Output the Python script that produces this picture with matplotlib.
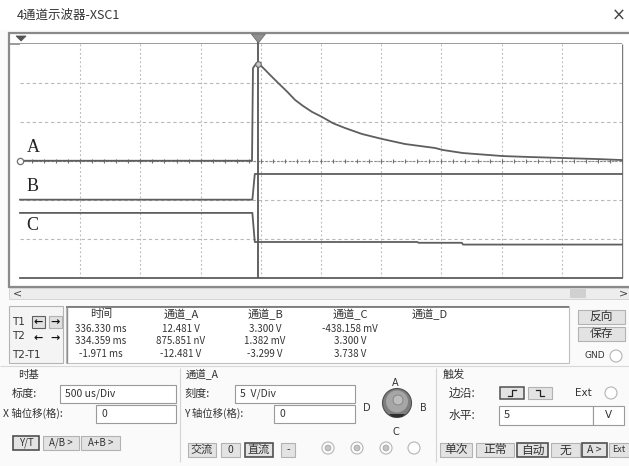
import matplotlib.pyplot as plt
import numpy as np
from matplotlib.patches import Circle, Polygon, Rectangle

plt.rcParams['font.family'] = ['Noto Sans CJK SC', 'DejaVu Sans']

W, H = 629, 466

# scope settings
t_start = 334.35          # ms at the left edge of the screen
ms_per_div = 0.5
x_divs, y_divs = 10, 6
volts_per_div = {'A': 5, 'B': 5, 'C': 5, 'D': 5}
zero_div = {'A': 0, 'B': -1, 'C': -2, 'D': -3}

# traces, time in ms / level in V
a_t = [334.35, 336.277, 336.285, 336.31, 336.33, 336.343, 336.385, 336.426, 336.493,
       336.568, 336.634, 336.70, 336.775, 336.858, 336.95, 337.049, 337.190, 337.357,
       337.548, 337.797, 337.863, 338.029, 338.362, 338.586, 338.860, 339.142, 339.35]
a_v = [0, 0, 11.9, 12.45, 12.481, 12.33, 11.69, 11.04, 10.01,
       8.89, 7.82, 7.05, 6.28, 5.63, 4.82, 4.21, 3.44, 2.80,
       2.15, 1.64, 1.38, 0.99, 0.60, 0.48, 0.35, 0.22, 0.09]
b_t = [334.35, 336.28, 336.30, 339.35]
b_v = [0, 0, 3.3, 3.3]
c_t = [334.35, 336.28, 336.30, 337.65, 337.66, 338.02, 338.03, 339.35]
c_v = [3.3, 3.3, -0.438, -0.438, -0.54, -0.54, -0.77, -0.77]
d_t = [334.35, 339.35]
d_v = [0, 0]

cursor_t1 = 336.330
cursor_t2 = 334.359

# readout table
col_heads = ['时间', '通道_A', '通道_B', '通道_C', '通道_D']
row_names = ['T1', 'T2', 'T2-T1']
readout = [
    ['336.330 ms', '12.481 V', '3.300 V', '-438.158 mV', ''],
    ['334.359 ms', '875.851 nV', '1.382 mV', '3.300 V', ''],
    ['-1.971 ms', '-12.481 V', '-3.299 V', '3.738 V', ''],
]
col_x = [101, 181, 265, 350, 430]
row_y = [329, 341.5, 354]

# screen placement in pixels
SX0, SX1, SY0, SY1 = 20, 622, 44, 277.5
TXT = '#333333'
TRACE = '#5e5e5e'


def t2px(t):
    return SX0 + (t - t_start) / (ms_per_div * x_divs) * (SX1 - SX0)


fig = plt.figure(figsize=(W / 100, H / 100), dpi=100)
fig.patch.set_facecolor('#fafafa')
ui = fig.add_axes([0, 0, 1, 1])
ui.set_xlim(0, W)
ui.set_ylim(H, 0)
ui.axis('off')


def rect(x0, y0, x1, y1, fc='none', ec='#a8a8a8', lw=0.8, z=1):
    ui.add_patch(Rectangle((x0, y0), x1 - x0, y1 - y0, facecolor=fc,
                           edgecolor=ec, linewidth=lw, zorder=z))


def hline(y, x0, x1, c='#9a9a9a', lw=0.8):
    ui.plot([x0, x1], [y, y], color=c, lw=lw, solid_capstyle='butt')


def vline(x, y0, y1, c='#9a9a9a', lw=0.8):
    ui.plot([x, x], [y0, y1], color=c, lw=lw, solid_capstyle='butt')


def label(x, y, s, size=8, ha='left', color=TXT, **kw):
    ui.text(x, y, s, fontsize=size, ha=ha, va='center', color=color, zorder=5, **kw)


def button(x0, y0, x1, y1, s, pressed=False, size=8):
    rect(x0, y0, x1, y1, fc='#e3e3e3',
         ec='#505050' if pressed else '#b2b2b2', lw=1.2 if pressed else 0.8)
    label((x0 + x1) / 2, (y0 + y1) / 2, s, size=size, ha='center')


def entry(x0, y0, x1, y1, s, size=7.5):
    rect(x0, y0, x1, y1, fc='white', ec='#9a9a9a')
    label(x0 + 5, (y0 + y1) / 2, s, size=size)


def radio(x, y, dot=False):
    ui.add_patch(Circle((x, y), 6, fc='white', ec='#b4b4b4', lw=0.8, zorder=2))
    if dot:
        ui.add_patch(Circle((x, y), 3, fc='#c4c4c4', ec='#a0a0a0', lw=0.5, zorder=3))


# title bar
rect(0, 0, W, 30, fc='white', ec='none', z=0)
label(17, 15, '4通道示波器-XSC1', size=9)
label(619, 16, '×', size=12, ha='center', color='#444444', family='DejaVu Sans')

# scope frame and top marker bar
rect(9, 33, W + 2, 287, fc='white', ec='#8a8a8a', lw=1.6, z=0)
hline(44, 9, SX1, c='#8a8a8a', lw=1.2)
vline(SX1, 44, SY1, c='#7a7a7a', lw=1.0)
x1 = t2px(cursor_t1)
ui.add_patch(Polygon([(x1 - 7, 34), (x1 + 7, 34), (x1, 43)], closed=True,
                     fc='#909090', ec='#707070', lw=0.6, zorder=3))
vline(x1, 34, 44, c='#555555', lw=1.3)
x2 = t2px(cursor_t2)
ui.add_patch(Polygon([(x2 - 5, 36), (x2 + 5, 36), (x2, 41)], closed=True,
                     fc='#555555', ec='#555555', lw=0.6, zorder=3))

# scope screen
ax = fig.add_axes([SX0 / W, 1 - SY1 / H, (SX1 - SX0) / W, (SY1 - SY0) / H])
ax.set_facecolor('white')
ax.set_xlim(t_start, t_start + ms_per_div * x_divs)
ax.set_ylim(-y_divs / 2, y_divs / 2)
ax.set_xticks([])
ax.set_yticks([])
for side in ('left', 'top', 'right', 'bottom'):
    ax.spines[side].set_visible(False)

for k in range(1, x_divs):
    ax.axvline(t_start + k * ms_per_div, color='#b8b8b8', lw=0.8,
               dashes=(1.6, 2.2), zorder=1)
for k in range(1, y_divs):
    ax.axhline(-y_divs / 2 + k, color='#b8b8b8', lw=0.8,
               dashes=(3, 2.5), zorder=1)

# centre axis with minor ticks
minor_t = t_start + np.arange(0, x_divs * 5 + 1) * ms_per_div / 5
ax.axhline(0, color='#8a8a8a', lw=0.8, dashes=(2, 1.5), zorder=2)
ax.plot(minor_t, np.zeros_like(minor_t), '|', color='#707070', ms=3.5, mew=0.8, zorder=2)

for name, tt, vv in (('A', a_t, a_v), ('B', b_t, b_v), ('C', c_t, c_v), ('D', d_t, d_v)):
    y = np.array(vv) / volts_per_div[name] + zero_div[name]
    ax.plot(tt, y, color=TRACE, lw=1.3, zorder=4, clip_on=False,
            solid_joinstyle='round')

ax.axvline(cursor_t1, color='#555555', lw=1.3, zorder=5)
peak_y = a_v[a_t.index(cursor_t1)] / volts_per_div['A']
ax.plot([cursor_t1], [peak_y], 'o', ms=4, mfc='#c8c8c8', mec='#666666', mew=0.8, zorder=6)
ax.plot([t_start], [0], 'o', ms=4.5, mfc='white', mec='#707070', mew=0.9,
        zorder=6, clip_on=False)

for name in ('A', 'B', 'C'):
    ax.text(t_start + 0.055, zero_div[name] + 0.34, name, fontsize=13,
            family='Liberation Serif', color='#222222', va='center', zorder=6)

# scroll bar
rect(9, 288, W + 2, 299, fc='#ededed', ec='#d0d0d0', lw=0.6)
rect(570, 289, 586, 298, fc='#d0d0d0', ec='none')
label(17, 293.5, '<', size=8, ha='center', family='DejaVu Sans', color='#444444')
label(624, 293.5, '>', size=8, ha='center', family='DejaVu Sans', color='#444444')

# cursor readout
rect(9, 306, 63, 363, fc='#f4f4f4', ec='#b4b4b4')
for name, y in zip(row_names, [322, 336, 355]):
    label(12, y, name, size=7.5, family='DejaVu Sans')
for yy, boxed in ((322, True), (338, False)):
    for xx in (38.5, 55):
        if boxed:
            rect(xx - 6.5, yy - 6, xx + 6.5, yy + 6, fc='#e0e0e0',
                 ec='#606060' if xx < 45 else '#b0b0b0', lw=0.8)
        label(xx, yy, '←' if xx < 45 else '→', size=8, ha='center',
              family='DejaVu Sans', fontweight='bold', color='#111111')

rect(66, 306, 569, 363, fc='white', ec='#c0c0c0')
hline(306.5, 66, 569, c='#707070', lw=1.2)
vline(66.5, 306, 363, c='#909090', lw=1.0)
for head, x in zip(col_heads, col_x):
    label(x, 314, head, size=8, ha='center')
for vals, y in zip(readout, row_y):
    for s, x in zip(vals, col_x):
        if s:
            label(x, y, s, size=7, ha='center')

button(578, 310, 625, 324, '反向', size=8.5)
button(578, 327, 625, 341, '保存', size=8.5)
label(595, 356, 'GND', size=6.5, ha='center', family='DejaVu Sans')
radio(616, 356)

# control panel
hline(366, 0, W, c='#d8d8d8')
vline(180, 368, 462, c='#d4d4d4')
vline(436, 368, 462, c='#d4d4d4')

label(18, 375, '时基', size=7.5)
label(12, 394, '标度:', size=8)
entry(60, 385, 176, 403, '500 us/Div')
label(3, 413, 'X 轴位移(格):', size=7.5)
entry(96, 405, 176, 423, '0')
button(13, 436, 39, 450, 'Y/T', pressed=True, size=7)
button(43, 436, 79, 450, 'A/B >', size=7)
button(81, 436, 120, 450, 'A+B >', size=7)

label(186, 375, '通道_A', size=7.5)
label(184, 394, '刻度:', size=8)
entry(235, 385, 355, 403, '5  V/Div')
label(184, 413, 'Y 轴位移(格):', size=7.5)
entry(274, 405, 355, 423, '0')
button(188, 443, 216, 457, '交流', size=8)
button(221, 443, 240, 457, '0', size=7.5)
button(245, 443, 273, 457, '直流', pressed=True, size=8)
button(281, 443, 295, 457, '-', size=7.5)

# channel selector knob
kx, ky = 397, 403
ui.add_patch(Circle((kx, ky), 14.5, fc='#7e7e7e', ec='#4e4e4e', lw=0.8, zorder=2))
ui.add_patch(Circle((kx, ky - 1.5), 11, fc='#a6a6a6', ec='none', zorder=3))
ui.add_patch(Circle((kx + 1, ky - 3), 5, fc='#bdbdbd', ec='#808080', lw=0.6, zorder=4))
ui.add_patch(Polygon([(kx - 8, ky + 11), (kx + 8, ky + 11), (kx + 5, ky + 14), (kx - 5, ky + 14)],
                     closed=True, fc='#2e2e2e', ec='none', zorder=4))
for s, (x, y) in zip('ABCD', [(395, 383), (423, 408), (396, 432), (367, 408)]):
    label(x, y, s, size=7, ha='center', family='DejaVu Sans')

for x, dot in zip([328, 357, 386, 414], [True, True, True, False]):
    radio(x, 448, dot)

label(443, 375, '触发', size=8)
label(449, 393, '边沿:', size=8.5)
for x0, rising, pressed in ((500, True, True), (528, False, False)):
    rect(x0, 387, x0 + 24, 399, fc='#e3e3e3', ec='#505050' if pressed else '#b2b2b2',
         lw=1.1 if pressed else 0.8)
    cx = x0 + 12
    pts = [(cx - 4, 396), (cx, 396), (cx, 390), (cx + 4, 390)] if rising else \
          [(cx - 4, 390), (cx, 390), (cx, 396), (cx + 4, 396)]
    ui.plot(*zip(*pts), color='#222222', lw=0.9, zorder=5)
label(583, 393, 'Ext', size=7.5, ha='center', family='DejaVu Sans')
radio(611, 393)
label(449, 415, '水平:', size=8.5)
entry(499, 406, 593, 425, '5', size=8)
rect(593, 406, 624, 425, fc='white', ec='#9a9a9a')
label(608.5, 415.5, 'V', size=7.5, ha='center', family='DejaVu Sans')

button(440, 443, 472, 457, '单次', size=8.5)
button(476, 443, 514, 457, '正常', size=8.5)
button(517, 443, 548, 457, '自动', pressed=True, size=8.5)
button(551, 443, 580, 457, '无', size=8.5)
button(582, 443, 607, 457, 'A >', pressed=True, size=7.5)
button(609, 443, 629, 457, 'Ext', size=6.5)

fig.savefig('out.png', dpi=100, facecolor=fig.get_facecolor())
